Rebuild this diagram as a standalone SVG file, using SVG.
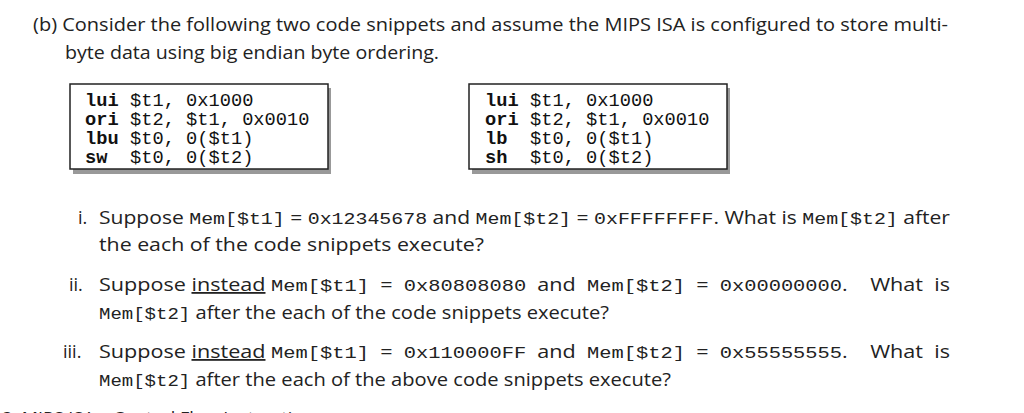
<svg xmlns="http://www.w3.org/2000/svg" width="1024" height="413" viewBox="0 0 1024 413">
<defs>
<style>
.t{font-family:"Open Sans","Liberation Sans",sans-serif;font-size:18px;fill:#222}
.m{font-family:"Liberation Mono",monospace;font-size:17px;fill:#222}
.c{font-family:"Liberation Mono",monospace;font-size:18.7px;fill:#111}
.k{font-family:"Liberation Mono",monospace;font-size:18.7px;fill:#111;font-weight:bold}
.b{fill:#fff;stroke:#222;stroke-width:1.5}
.s{fill:#999}
</style>
</defs>
<rect width="1024" height="413" fill="#fff"/>
<text class="t" x="33" y="31" textLength="915" lengthAdjust="spacingAndGlyphs">(b) Consider the following two code snippets and assume the MIPS ISA is configured to store multi-</text>
<text class="t" x="65" y="59" textLength="374" lengthAdjust="spacingAndGlyphs">byte data using big endian byte ordering.</text>
<g id="snippet1">
<rect class="s" x="73" y="88" width="258" height="86"/>
<rect class="b" x="70" y="84" width="258" height="85"/>
<text class="k" x="85" y="106">lui</text><text class="c" x="130" y="106">$t1, 0x1000</text>
<text class="k" x="85" y="125">ori</text><text class="c" x="130" y="125">$t2, $t1, 0x0010</text>
<text class="k" x="85" y="144">lbu</text><text class="c" x="130" y="144">$t0, 0($t1)</text>
<text class="k" x="85" y="163">sw</text><text class="c" x="130" y="163">$t0, 0($t2)</text>
</g>
<g id="snippet2">
<rect class="s" x="472" y="88" width="258" height="86"/>
<rect class="b" x="469" y="84" width="258" height="85"/>
<text class="k" x="485" y="106">lui</text><text class="c" x="530" y="106">$t1, 0x1000</text>
<text class="k" x="485" y="125">ori</text><text class="c" x="530" y="125">$t2, $t1, 0x0010</text>
<text class="k" x="485" y="144">lb</text><text class="c" x="530" y="144">$t0, 0($t1)</text>
<text class="k" x="485" y="163">sh</text><text class="c" x="530" y="163">$t0, 0($t2)</text>
</g>
<text class="t" x="78" y="224">i.</text>
<text class="t" x="99" y="224" textLength="851" lengthAdjust="spacingAndGlyphs">Suppose <tspan class="m">Mem[$t1]</tspan> = <tspan class="m">0x12345678</tspan> and <tspan class="m">Mem[$t2]</tspan> = <tspan class="m">0xFFFFFFFF</tspan>. What is <tspan class="m">Mem[$t2]</tspan> after</text>
<text class="t" x="99" y="251" textLength="385" lengthAdjust="spacingAndGlyphs">the each of the code snippets execute?</text>
<text class="t" x="69" y="291">ii.</text>
<text class="t" x="99" y="291" textLength="851" lengthAdjust="spacingAndGlyphs" xml:space="preserve">Suppose <tspan text-decoration="underline">instead</tspan> <tspan class="m">Mem[$t1]</tspan>  =  <tspan class="m">0x80808080</tspan>  and  <tspan class="m">Mem[$t2]</tspan>  =  <tspan class="m">0x00000000</tspan>.    What  is</text>
<text class="t" x="99" y="319" textLength="510" lengthAdjust="spacingAndGlyphs"><tspan class="m">Mem[$t2]</tspan> after the each of the code snippets execute?</text>
<text class="t" x="63" y="358">iii.</text>
<text class="t" x="99" y="358" textLength="851" lengthAdjust="spacingAndGlyphs" xml:space="preserve">Suppose <tspan text-decoration="underline">instead</tspan> <tspan class="m">Mem[$t1]</tspan>  =  <tspan class="m">0x110000FF</tspan>  and  <tspan class="m">Mem[$t2]</tspan>  =  <tspan class="m">0x55555555</tspan>.    What  is</text>
<text class="t" x="99" y="386" textLength="572" lengthAdjust="spacingAndGlyphs"><tspan class="m">Mem[$t2]</tspan> after the each of the above code snippets execute?</text>
<text class="t" x="2" y="425" font-size="20">3.  MIPS ISA – Control Flow Instructions</text>
</svg>
